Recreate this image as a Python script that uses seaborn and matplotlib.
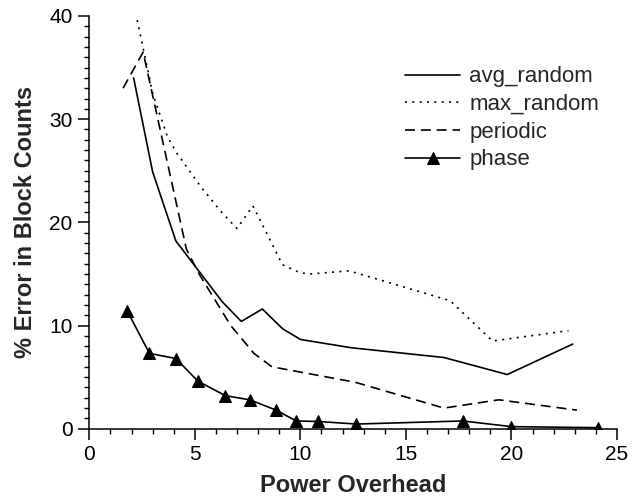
import matplotlib
matplotlib.use("Agg")
import matplotlib.pyplot as plt
import seaborn as sns
import pandas as pd
from matplotlib.ticker import MultipleLocator

# Data
avg_x = [2.1, 3.0, 4.1, 6.3, 7.2, 8.2, 9.15, 10.0, 12.4, 16.8, 19.8, 22.9]
avg_y = [34.0, 24.9, 18.2, 12.3, 10.4, 11.6, 9.7, 8.65, 7.85, 6.9, 5.25, 8.2]

max_x = [2.2, 3.0, 3.7, 4.15, 5.3, 6.3, 7.0, 7.75, 9.15, 10.0, 10.5, 12.3, 13.8, 17.1, 19.1, 22.7]
max_y = [40.3, 32.5, 28.3, 26.7, 23.4, 20.9, 19.4, 21.6, 15.9, 15.1, 15.0, 15.3, 14.4, 12.4, 8.5, 9.5]

per_x = [1.6, 2.55, 4.6, 5.2, 6.7, 7.8, 8.65, 12.6, 16.8, 19.4, 23.1]
per_y = [33.0, 36.5, 17.4, 15.0, 10.0, 7.3, 6.0, 4.5, 2.0, 2.8, 1.8]

ph_x = [1.8, 2.85, 4.1, 5.15, 6.45, 7.6, 8.85, 9.8, 10.85, 12.65, 17.7, 20.0, 24.1]
ph_y = [11.4, 7.3, 6.8, 4.6, 3.2, 2.8, 1.8, 0.75, 0.7, 0.45, 0.75, 0.2, 0.1]

labels = ["avg_random", "max_random", "periodic", "phase"]
x_ticks = [0, 5, 10, 15, 20, 25]
y_ticks = [0, 10, 20, 30, 40]

sns.set_style("ticks")
plt.rcParams["font.family"] = ["Liberation Sans", "DejaVu Sans"]

fig = plt.figure(figsize=(6.39, 4.96), dpi=100)
ax = fig.add_axes([89.3 / 639, 1 - 428.7 / 496, (617 - 89.3) / 639, (428.7 - 16) / 496])

lw = 1.2
sns.lineplot(x=avg_x, y=avg_y, sort=False, ax=ax, color="black", lw=lw,
             linestyle="-", label=labels[0])
sns.lineplot(x=max_x, y=max_y, sort=False, ax=ax, color="black", lw=lw,
             linestyle=(0, (1.2, 3.2)), label=labels[1])
sns.lineplot(x=per_x, y=per_y, sort=False, ax=ax, color="black", lw=lw,
             linestyle=(0, (6, 3.5)), label=labels[2])
sns.lineplot(x=ph_x, y=ph_y, sort=False, ax=ax, color="black", lw=lw,
             linestyle="-", marker="^", markersize=8.5, markeredgecolor="black",
             markerfacecolor="black", label=labels[3], clip_on=True)

ax.set_xlim(0, 25)
ax.set_ylim(0, 40)
ax.set_xticks(x_ticks)
ax.set_yticks(y_ticks)
ax.xaxis.set_minor_locator(MultipleLocator(1))
ax.yaxis.set_minor_locator(MultipleLocator(1))
ax.tick_params(which="major", length=8, width=1.1, labelsize=15, color="black",
               labelcolor="black", pad=4)
ax.tick_params(which="minor", length=3.5, width=1.0, color="black")
for s in ["top", "right"]:
    ax.spines[s].set_visible(False)
for s in ["left", "bottom"]:
    ax.spines[s].set_linewidth(1.1)
    ax.spines[s].set_color("black")

ax.set_xlabel("Power Overhead", fontsize=17, fontweight="bold", labelpad=7)
ax.set_ylabel("% Error in Block Counts", fontsize=17, fontweight="bold", labelpad=9)

ax.legend(loc="upper left", bbox_to_anchor=(0.598, 0.878), frameon=False,
          fontsize=16, borderpad=0, borderaxespad=0, labelspacing=0.3,
          handlelength=2.5, handletextpad=0.4)

fig.savefig("out.png", dpi=100)
